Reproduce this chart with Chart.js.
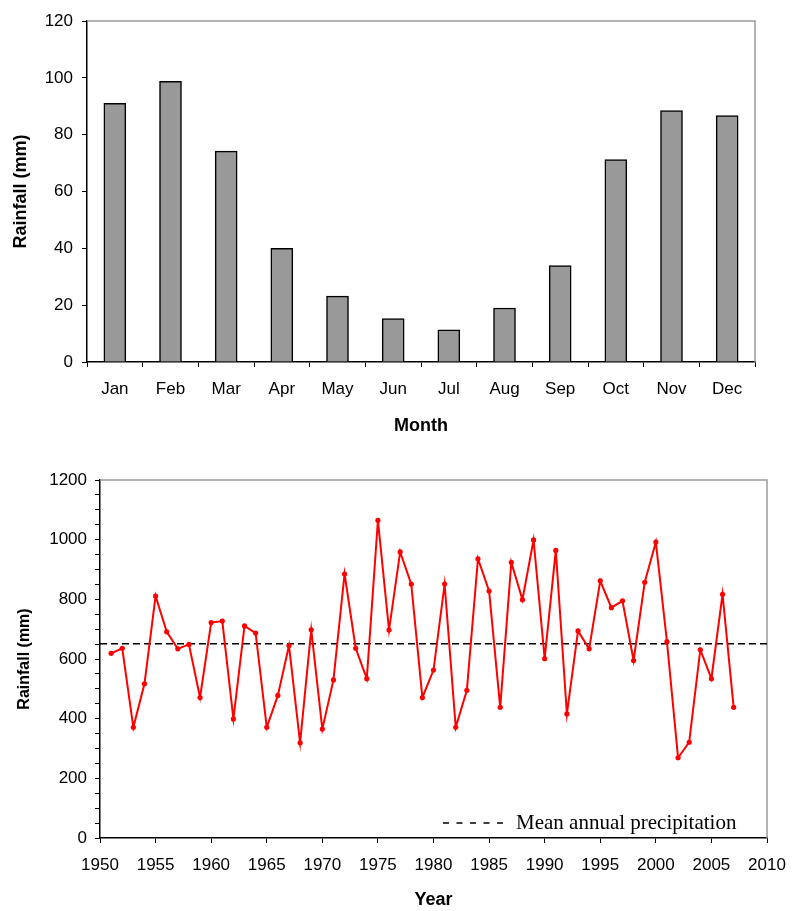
<!DOCTYPE html>
<html>
<head>
<meta charset="utf-8">
<script src="https://cdn.jsdelivr.net/npm/chart.js@4.4.0/dist/chart.umd.min.js"></script>
<style>
  body { margin: 0; background: #fff; }
  #top { position: absolute; left: 0; top: 0; width: 792px; height: 440px; }
  #bottom { position: absolute; left: 0; top: 460px; width: 792px; height: 451px; }
</style>
</head>
<body>
<div id="top"><canvas id="monthChart"></canvas></div>
<div id="bottom"><canvas id="yearChart"></canvas></div>
<script>
// monthly mean rainfall
const months = ["Jan", "Feb", "Mar", "Apr", "May", "Jun", "Jul", "Aug", "Sep", "Oct", "Nov", "Dec"];
const monthlyRainfall = [91, 98.8, 74.2, 40, 23.2, 15.3, 11.3, 19, 33.9, 71.2, 88.5, 86.7];

// annual rainfall 1951-2007
const years = [1951, 1952, 1953, 1954, 1955, 1956, 1957, 1958, 1959, 1960,
  1961, 1962, 1963, 1964, 1965, 1966, 1967, 1968, 1969, 1970,
  1971, 1972, 1973, 1974, 1975, 1976, 1977, 1978, 1979, 1980,
  1981, 1982, 1983, 1984, 1985, 1986, 1987, 1988, 1989, 1990,
  1991, 1992, 1993, 1994, 1995, 1996, 1997, 1998, 1999, 2000,
  2001, 2002, 2003, 2004, 2005, 2006, 2007];
const annualRainfall = [619, 636, 371, 517, 811, 691, 634, 649, 471, 722,
  727, 399, 711, 687, 371, 478, 645, 319, 698, 365,
  530, 885, 636, 534, 1065, 697, 959, 851, 471, 563,
  851, 371, 495, 936, 828, 438, 924, 799, 999, 601,
  964, 416, 694, 634, 862, 772, 795, 595, 857, 992,
  658, 269, 321, 631, 534, 817, 438];
const meanRainfall = 651;
const meanLabel = "Mean annual precipitation";

const F = "'Liberation Sans', Arial, sans-serif";

// gray frame on top and right of plot area
const framePlugin = {
  id: "frame",
  beforeDatasetsDraw(chart) {
    const a = chart.chartArea;
    const ctx = chart.ctx;
    ctx.save();
    ctx.strokeStyle = "#9a9a9a";
    ctx.lineWidth = 1.5;
    ctx.beginPath();
    ctx.moveTo(a.left, a.top);
    ctx.lineTo(a.right, a.top);
    ctx.lineTo(a.right, a.bottom);
    ctx.stroke();
    ctx.restore();
  }
};

// legend for the mean line, inside the plot, bottom right
const meanLegend = {
  id: "meanLegend",
  afterDatasetsDraw(chart) {
    const a = chart.chartArea;
    const ctx = chart.ctx;
    const y = a.bottom - 15;
    ctx.save();
    ctx.strokeStyle = "#000";
    ctx.lineWidth = 1.5;
    ctx.setLineDash([6, 7.5]);
    ctx.beginPath();
    ctx.moveTo(a.left + 343, y);
    ctx.lineTo(a.left + 403, y);
    ctx.stroke();
    ctx.setLineDash([]);
    ctx.fillStyle = "#000";
    ctx.font = "21px 'Liberation Serif', 'Times New Roman', serif";
    ctx.textBaseline = "alphabetic";
    ctx.fillText(meanLabel, a.left + 416, y + 6);
    ctx.restore();
  }
};

new Chart(document.getElementById("monthChart"), {
  type: "bar",
  data: {
    labels: months,
    datasets: [{
      data: monthlyRainfall,
      backgroundColor: "#999999",
      borderColor: "#000",
      borderWidth: 1.5,
      barThickness: 22
    }]
  },
  options: {
    responsive: true,
    maintainAspectRatio: false,
    animation: false,
    layout: { padding: { top: 21, right: 37, left: 0, bottom: 0 } },
    plugins: { legend: { display: false }, tooltip: { enabled: false } },
    scales: {
      x: {
        grid: { drawOnChartArea: false, tickLength: 5, color: "#000", offset: true },
        border: { color: "#000", width: 1.5 },
        ticks: { color: "#000", font: { size: 17, family: F }, padding: 12 },
        title: {
          display: true, text: "Month", color: "#000",
          font: { size: 18, weight: "bold", family: F },
          padding: { top: 0, bottom: 3 }
        },
        afterFit(s) { s.height = 78; }
      },
      y: {
        min: 0,
        max: 120,
        grid: { drawOnChartArea: false, tickLength: 5, color: "#000" },
        border: { color: "#000", width: 1.5 },
        ticks: { stepSize: 20, color: "#000", font: { size: 17, family: F }, padding: 9 },
        title: {
          display: true, text: "Rainfall (mm)", color: "#000",
          font: { size: 18, weight: "bold", family: F },
          padding: { top: 10, bottom: 0 }
        },
        afterFit(s) { s.width = 87; }
      }
    }
  },
  plugins: [framePlugin]
});

new Chart(document.getElementById("yearChart"), {
  type: "line",
  data: {
    datasets: [
      {
        label: "Rainfall",
        data: years.map((y, i) => ({ x: y, y: annualRainfall[i] })),
        borderColor: "#ff0000",
        backgroundColor: "#ff0000",
        borderWidth: 2,
        pointRadius: 2.6,
        pointBorderWidth: 0,
        tension: 0
      },
      {
        label: meanLabel,
        data: [{ x: 1950, y: meanRainfall }, { x: 2010, y: meanRainfall }],
        borderColor: "#000",
        borderDash: [7, 4],
        borderWidth: 1.5,
        pointRadius: 0
      }
    ]
  },
  options: {
    responsive: true,
    maintainAspectRatio: false,
    animation: false,
    layout: { padding: { top: 20, right: 25, left: 0, bottom: 0 } },
    plugins: { legend: { display: false }, tooltip: { enabled: false } },
    scales: {
      x: {
        type: "linear",
        min: 1950,
        max: 2010,
        grid: { drawOnChartArea: false, tickLength: 5, color: "#000" },
        border: { color: "#000", width: 1.5 },
        ticks: {
          stepSize: 5, autoSkip: false, maxRotation: 0,
          color: "#000", font: { size: 17, family: F }, padding: 12,
          callback: (v) => String(v)
        },
        title: {
          display: true, text: "Year", color: "#000",
          font: { size: 18, weight: "bold", family: F },
          padding: { top: 0, bottom: 0 }
        },
        afterFit(s) {
          s.height = 73;
          s.paddingLeft = 0;
          s.paddingRight = 0; // last label may hang past the plot edge
        }
      },
      y: {
        min: 0,
        max: 1200,
        grid: { drawOnChartArea: false, tickLength: 5, color: "#000" },
        border: { color: "#000", width: 1.5 },
        ticks: {
          stepSize: 50, autoSkip: false,
          color: "#000", font: { size: 17, family: F }, padding: 8,
          callback: (v) => (v % 200 === 0 ? String(v) : "")
        },
        title: {
          display: true, text: "Rainfall (mm)", color: "#000",
          font: { size: 16, weight: "bold", family: F },
          padding: { top: 15, bottom: 0 }
        },
        afterFit(s) { s.width = 100; }
      }
    }
  },
  plugins: [framePlugin, meanLegend]
});
</script>
</body>
</html>
